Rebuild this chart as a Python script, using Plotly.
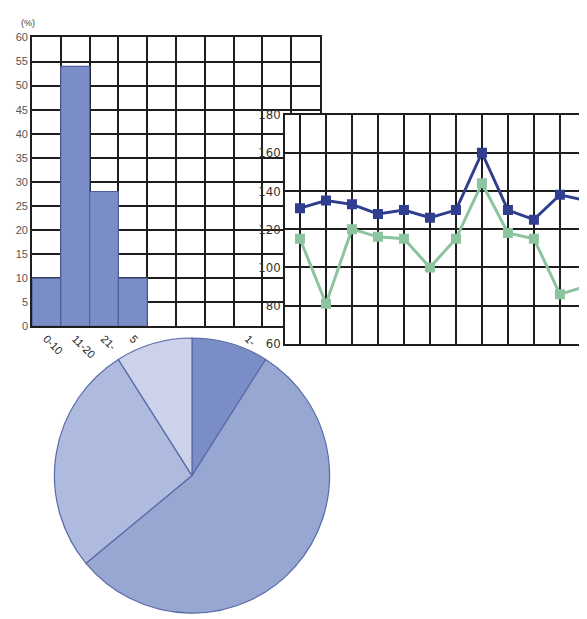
import plotly.graph_objects as go

W, H = 587, 619
OFF = 8  # page body margin offset

# ---- data ----
bar_labels = ["0-10", "11-20", "21-", "5", "", "", "", "1-", "", ""]
bar_values = [10, 54, 28, 10]

line_index = list(range(12))
series_blue = [131, 135, 133, 128, 130, 126, 130, 160, 130, 125, 138, 135]
series_green = [115, 81, 120, 116, 115, 100, 115, 144, 118, 115, 86, 90]
line_yticks = [60, 80, 100, 120, 140, 160, 180]

pie_labels = ["A", "B", "C", "D"]
pie_values = [9, 55, 27, 9]
pie_colors = ["#7b8dc6", "#98a6d2", "#afbadf", "#cbd2ea"]

bar_color = "#7b8dc6"
bar_edge = "#4f5f9f"
grid_col = "#1e1e1e"


def px_x(x):
    return (x - OFF) / W


def px_y(y):
    return 1 - (y - OFF) / H


fig = go.Figure()

# bar chart (histogram style)
fig.add_trace(go.Bar(
    x=[i + 0.5 for i in range(len(bar_values))], y=bar_values, width=1,
    marker=dict(color=bar_color, line=dict(color=bar_edge, width=1.2)),
    xaxis="x", yaxis="y", showlegend=False, hoverinfo="skip"))

# line chart
fig.add_trace(go.Scatter(
    x=line_index, y=series_green, mode="lines+markers",
    line=dict(color="#8cc49f", width=3),
    marker=dict(symbol="square", size=10, color="#8cc49f"),
    xaxis="x3", yaxis="y3", showlegend=False))
fig.add_trace(go.Scatter(
    x=line_index, y=series_blue, mode="lines+markers",
    line=dict(color="#2f3e8e", width=3),
    marker=dict(symbol="square", size=10, color="#2f3e8e"),
    xaxis="x3", yaxis="y3", showlegend=False))

# pie
fig.add_trace(go.Pie(
    labels=pie_labels, values=pie_values, sort=False, direction="clockwise",
    rotation=0, textinfo="none", hoverinfo="skip", showlegend=False,
    marker=dict(colors=pie_colors, line=dict(color="#5a6aa8", width=1.2)),
    domain=dict(x=[px_x(51), px_x(333)], y=[px_y(621), px_y(339)])))

tick_font = dict(family="Liberation Sans, Arial, sans-serif", size=11, color="#555")
narrow_font = dict(family="Liberation Sans Narrow, DejaVu Sans Condensed, Arial Narrow, sans-serif",
                   size=13, color="#333")

fig.update_layout(
    width=W, height=H,
    margin=dict(l=0, r=0, t=0, b=0),
    paper_bgcolor="white", plot_bgcolor="white",
    xaxis=dict(
        domain=[px_x(32), px_x(320)], anchor="y", range=[0, 10],
        tickvals=[i + 0.5 for i in range(10)], ticktext=bar_labels,
        tickangle=45, tickfont=dict(family="Liberation Sans, Arial, sans-serif", size=11, color="#222"),
        showgrid=False, zeroline=False, ticks="",
        minor=dict(tickvals=list(range(11)), showgrid=True, gridcolor=grid_col, gridwidth=1.6, ticks=""),
        showline=True, linecolor=grid_col, linewidth=1.6, mirror=True),
    yaxis=dict(
        domain=[px_y(327), px_y(31)], anchor="x", range=[0, 60], dtick=5,
        showgrid=True, gridcolor=grid_col, gridwidth=1.6, zeroline=False, ticks="",
        tickfont=tick_font,
        showline=True, linecolor=grid_col, linewidth=1.6, mirror=True),
    # white cover panel for the overlapping line chart
    xaxis2=dict(domain=[px_x(256), 1], anchor="y2", visible=False, range=[0, 1]),
    yaxis2=dict(domain=[px_y(352), px_y(98)], anchor="x2", visible=False, range=[0, 1]),
    xaxis3=dict(
        domain=[px_x(285), 1], anchor="y3", range=[-0.577, 11.35],
        tickvals=line_index, showticklabels=False, ticks="",
        showgrid=True, gridcolor=grid_col, gridwidth=1.6, zeroline=False,
        showline=True, linecolor=grid_col, linewidth=1.6, mirror=True),
    yaxis3=dict(
        domain=[px_y(345), px_y(110)], anchor="x3", range=[60, 180],
        tickvals=line_yticks, tickfont=narrow_font, ticks="",
        showgrid=True, gridcolor=grid_col, gridwidth=1.6, zeroline=False,
        showline=True, linecolor=grid_col, linewidth=1.6),
    annotations=[dict(
        text="(%)", x=px_x(20), y=px_y(16), xref="paper", yref="paper",
        xanchor="left", yanchor="middle", borderpad=0,
        showarrow=False, font=dict(family="Liberation Sans, Arial, sans-serif", size=9, color="#444"))],
)

fig.write_html("out.html")
